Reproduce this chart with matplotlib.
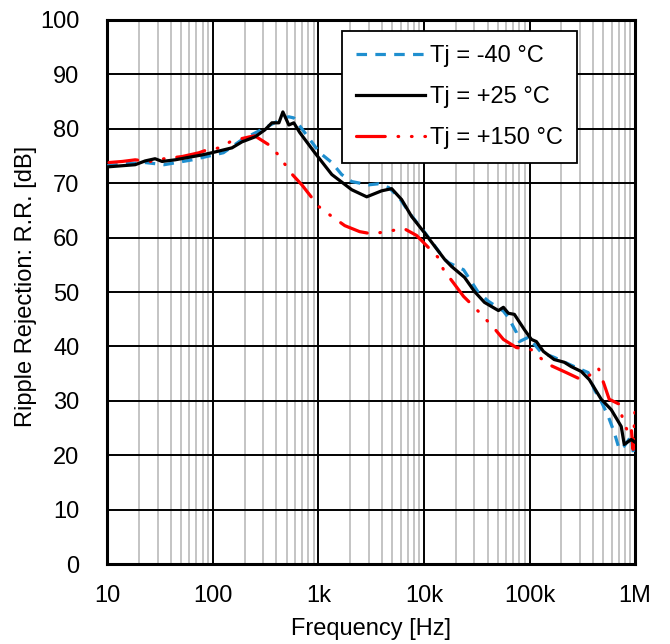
import matplotlib
matplotlib.use("Agg")
import matplotlib.pyplot as plt
from matplotlib.ticker import FixedLocator, LogLocator, NullFormatter

plt.rcParams['font.family'] = ['Liberation Sans', 'DejaVu Sans']

# Tj = +25 °C
f_25 = [10, 18.4, 22.9, 28.4, 33.1, 44, 79, 98, 152, 189, 250, 311, 363, 423, 461, 525,
        585, 667, 925, 1340, 2070, 2870, 3970, 4940, 6140, 7630, 10100, 15700, 18250,
        24200, 30100, 37400, 50700, 56500, 63000, 71800, 89300, 104000, 116000, 135000,
        171000, 213000, 248000, 309000, 368000, 477000, 593000, 738000, 788000, 917000, 1000000]
rr_25 = [73.0, 73.4, 74.1, 74.5, 74.0, 74.3, 75.2, 75.6, 76.5, 77.6, 78.5, 79.8, 81.1, 81.1,
         83.1, 80.7, 81.1, 79.3, 75.6, 71.6, 68.8, 67.5, 68.6, 69.0, 67.0, 63.9, 60.9, 56.0,
         54.7, 52.7, 50.1, 48.1, 46.6, 47.2, 46.1, 45.9, 43.1, 41.3, 40.9, 39.1, 37.6, 37.1,
         36.3, 35.4, 33.9, 30.3, 28.4, 25.3, 22.0, 22.9, 22.4]

# Tj = -40 °C
f_m40 = [10, 15, 22.9, 34.6, 64, 126, 189, 300, 420, 470, 525, 585, 1030, 1340, 1660, 2070,
         2990, 3720, 4630, 5750, 7630, 10130, 15700, 17100, 23700, 26400, 32800, 40800,
         56500, 63000, 75000, 80100, 97500, 129000, 171000, 265000, 359000, 410000, 477000,
         555000, 634000, 707000, 788000, 917000, 979000]
rr_m40 = [73.2, 73.6, 73.8, 73.4, 74.3, 75.6, 78.0, 80.0, 81.5, 82.0, 82.2, 82.0, 75.6, 73.8,
          71.6, 70.3, 69.7, 69.9, 69.2, 67.5, 64.0, 61.0, 56.0, 55.4, 54.1, 52.7, 49.9, 48.3,
          46.5, 45.3, 42.6, 40.9, 41.7, 38.9, 38.0, 36.3, 35.2, 32.1, 29.9, 27.2, 24.2, 21.1,
          21.7, 23.5, 19.3]

# Tj = +150 °C
f_150 = [10.4, 13.9, 18.4, 25.5, 34.6, 51.2, 74.1, 84.4, 115, 152, 220, 250, 363, 451, 548,
         697, 1010, 1340, 1780, 2460, 3200, 4430, 6420, 8510, 11000, 13700, 15300, 19000,
         23700, 30100, 45500, 56500, 75000, 104000, 121000, 151000, 223000, 309000, 384000,
         447000, 509000, 568000, 707000, 771000, 859000, 917000, 957000, 1000000]
rr_150 = [73.8, 74.0, 74.3, 74.0, 74.5, 74.9, 75.6, 76.0, 76.5, 77.8, 78.5, 78.7, 76.7, 74.3,
          71.9, 69.7, 65.7, 63.9, 62.2, 61.1, 60.7, 61.1, 61.7, 60.4, 58.2, 56.3, 54.1, 51.7,
          49.2, 47.2, 43.5, 41.3, 39.8, 39.4, 38.2, 36.7, 35.2, 33.9, 34.9, 36.1, 33.0, 30.3,
          29.4, 26.2, 24.2, 25.1, 21.1, 29.0]

labels = ['Tj = -40 °C', 'Tj = +25 °C', 'Tj = +150 °C']
x_ticks = [10, 100, 1e3, 1e4, 1e5, 1e6]
x_ticklabels = ['10', '100', '1k', '10k', '100k', '1M']
y_ticks = list(range(0, 101, 10))

FS = 17

fig = plt.figure(figsize=(6.7, 6.44), dpi=100)
ax = fig.add_axes([0.160, 0.124, 0.788, 0.845])

ax.plot(f_m40, rr_m40, color='#1f8fcf', lw=2.3, linestyle=(0, (3.3, 2.6)), label=labels[0], zorder=3)
ax.plot(f_25, rr_25, color='black', lw=2.3, label=labels[1], zorder=4)
ax.plot(f_150, rr_150, color='#ff0000', lw=2.3, linestyle=(0, (9, 4, 0.2, 4, 0.2, 4)),
        dash_capstyle='round', label=labels[2], zorder=3)

ax.set_xscale('log')
ax.set_xlim(10, 1e6)
ax.set_ylim(0, 100)
ax.xaxis.set_major_locator(FixedLocator(x_ticks))
ax.set_xticklabels(x_ticklabels)
ax.xaxis.set_minor_locator(LogLocator(base=10, subs=range(2, 10), numticks=100))
ax.xaxis.set_minor_formatter(NullFormatter())
ax.set_yticks(y_ticks)

ax.grid(which='minor', axis='x', color='#bfbfbf', lw=1.3, zorder=0)
ax.grid(which='major', axis='both', color='black', lw=1.4, zorder=1)
ax.set_axisbelow(True)

for s in ax.spines.values():
    s.set_linewidth(2.2)

ax.tick_params(axis='both', which='both', length=0, labelsize=FS)
ax.tick_params(axis='y', pad=20)
ax.tick_params(axis='x', pad=15)

ax.set_xlabel('Frequency [Hz]', fontsize=FS, labelpad=8)
ax.set_ylabel('Ripple Rejection: R.R. [dB]', fontsize=FS)
ax.yaxis.set_label_coords(-0.133, 0.511)

leg = ax.legend(loc='upper right', bbox_to_anchor=(0.890, 0.980), borderaxespad=0,
                fontsize=FS, handlelength=2.95, handletextpad=0.2, labelspacing=0.8,
                fancybox=False, framealpha=1, edgecolor='black', borderpad=0.6)
leg.get_frame().set_linewidth(1.3)

fig.savefig('out.png', dpi=100)
